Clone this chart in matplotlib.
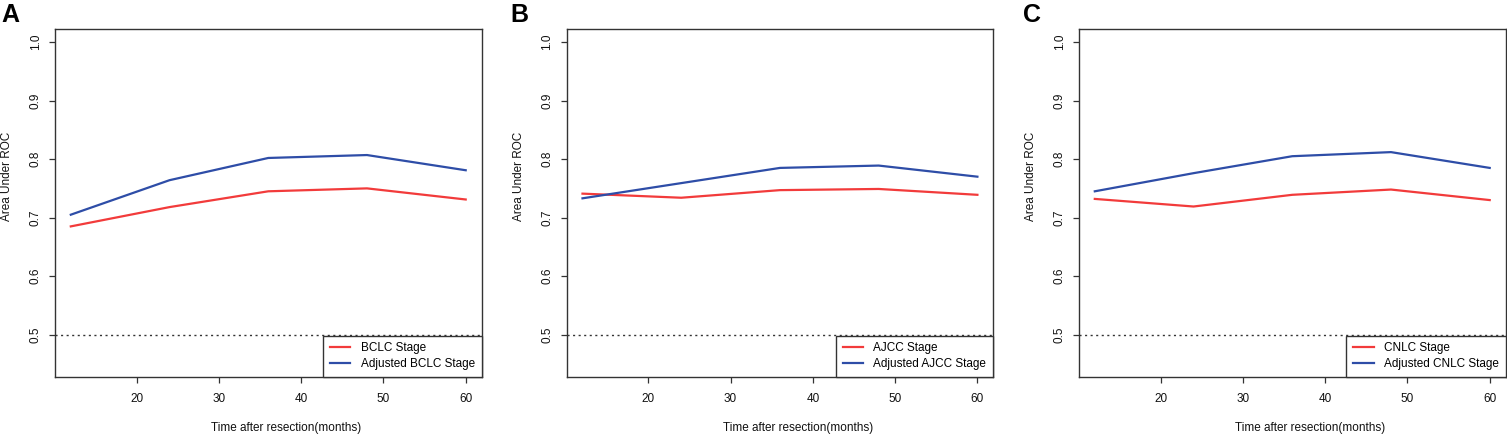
import matplotlib
matplotlib.use("Agg")
import matplotlib.pyplot as plt

plt.rcParams['font.family'] = ['Liberation Sans', 'DejaVu Sans']

months = [12, 24, 36, 48, 60]
panel_letters = ["A", "B", "C"]
stage_names = ["BCLC", "AJCC", "CNLC"]

bclc = [0.685, 0.718, 0.745, 0.750, 0.731]
bclc_adj = [0.705, 0.764, 0.802, 0.807, 0.781]
ajcc = [0.741, 0.734, 0.747, 0.749, 0.739]
ajcc_adj = [0.733, 0.759, 0.785, 0.789, 0.770]
cnlc = [0.732, 0.719, 0.739, 0.748, 0.730]
cnlc_adj = [0.745, 0.776, 0.805, 0.812, 0.785]

yticks = [0.5, 0.6, 0.7, 0.8, 0.9, 1.0]
xticks = [20, 30, 40, 50, 60]
ref_auc = 0.5

series = [(bclc, bclc_adj), (ajcc, ajcc_adj), (cnlc, cnlc_adj)]

W, H = 1507, 436
fig = plt.figure(figsize=(W / 100, H / 100), dpi=100)

ax_left_px = [55, 566.7, 1079]
ax_w_px = 426.5
ax_top_px, ax_bot_px = 29.3, 376.7
letter_x_px = [1, 510, 1023]

RED = "#F23B3B"
BLUE = "#2E4DA7"
FRAME = "#333333"
FS = 8.5

for i in range(3):
    ax = fig.add_axes([ax_left_px[i] / W, 1 - ax_bot_px / H,
                       ax_w_px / W, (ax_bot_px - ax_top_px) / H])
    base, adj = series[i]
    name = stage_names[i]
    ax.plot(months, base, color=RED, lw=1.6, label=f"{name} Stage")
    ax.plot(months, adj, color=BLUE, lw=1.6, label=f"Adjusted {name} Stage")
    ax.axhline(ref_auc, color="#333333", lw=1.0, ls=(0, (1.5, 2.5)))
    ax.set_xlim(10.08, 61.92)
    ax.set_ylim(0.428, 1.022)
    ax.set_xticks(xticks)
    ax.set_yticks(yticks)
    ax.set_yticklabels([f"{v:.1f}" for v in yticks])
    ax.tick_params(direction="out", length=4.5, width=0.9, color=FRAME,
                   labelsize=FS, labelcolor="#111111")
    ax.tick_params(axis="x", pad=7.5)
    ax.tick_params(axis="y", pad=5, labelrotation=90)
    for lab in ax.get_yticklabels():
        lab.set_va("center")
    for sp in ax.spines.values():
        sp.set_color(FRAME)
        sp.set_linewidth(1.0)
    ax.text(0.5415, -0.1477, "Time after resection(months)", transform=ax.transAxes,
            ha="center", va="center", fontsize=FS, color="#111111")
    ax.text(-0.1115, 0.576, "Area Under ROC", transform=ax.transAxes,
            ha="center", va="center", rotation=90, fontsize=FS, color="#111111")
    leg = ax.legend(loc="lower right", borderaxespad=0, fancybox=False,
                    framealpha=1, edgecolor=FRAME, fontsize=FS,
                    handlelength=1.75, handletextpad=0.85, labelspacing=0.29,
                    borderpad=0.58)
    leg.get_frame().set_linewidth(1.0)
    fig.text(letter_x_px[i] / W, 1 - 3 / H, panel_letters[i], fontsize=18,
             fontweight="bold", ha="left", va="top", color="black")

fig.savefig("out.png", dpi=100)
